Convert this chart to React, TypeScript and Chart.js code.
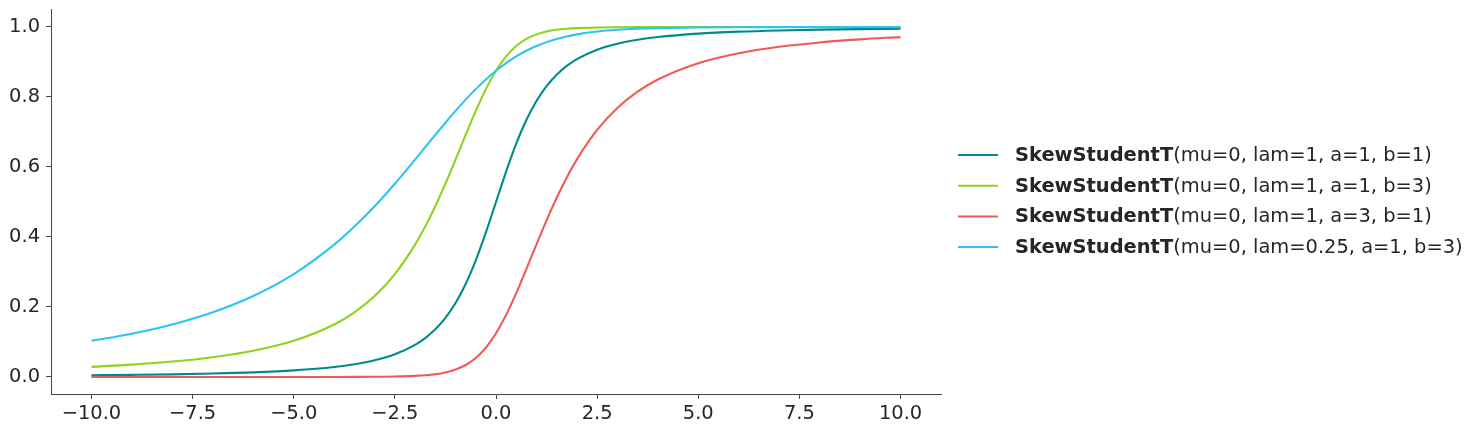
import React, { useEffect, useRef } from "react";
import { Chart, registerables } from "chart.js";

Chart.register(...registerables);

// x sample positions
const xValues = [
  -10, -9, -8, -7, -6, -5, -4, -3.5, -3, -2.5, -2, -1.75, -1.5, -1.25, -1, -0.75, -0.5, -0.25,
  0, 0.25, 0.5, 0.75, 1, 1.25, 1.5, 1.75, 2, 2.5, 3, 3.5, 4, 5, 6, 7, 8, 9, 10,
];

// SkewStudentT(mu=0, lam=1, a=1, b=1)
const tealValues = [
  0.0049, 0.0061, 0.0076, 0.0099, 0.0133, 0.0189, 0.0286, 0.0364, 0.0477, 0.0648, 0.0918, 0.1111,
  0.1362, 0.1689, 0.2113, 0.2657, 0.3333, 0.413, 0.5, 0.587, 0.6667, 0.7343, 0.7887, 0.8311, 0.8638,
  0.8889, 0.9083, 0.9352, 0.9523, 0.9636, 0.9714, 0.9811, 0.9867, 0.9901, 0.9924, 0.9939, 0.9951,
];

// SkewStudentT(mu=0, lam=1, a=1, b=3)
const greenValues = [
  0.0289, 0.0353, 0.0441, 0.0566, 0.075, 0.1035, 0.1501, 0.1849, 0.2314, 0.294, 0.3781, 0.4298,
  0.488, 0.5523, 0.6211, 0.6917, 0.7602, 0.8225, 0.875, 0.916, 0.9457, 0.9659, 0.9789, 0.987, 0.992,
  0.995, 0.9969, 0.9987, 0.9994, 0.9997, 0.9999, 1.0, 1.0, 1.0, 1.0, 1.0, 1.0,
];

// SkewStudentT(mu=0, lam=1, a=3, b=1)
const redValues = [
  0.0, 0.0, 0.0, 0.0, 0.0, 0.0, 0.0001, 0.0003, 0.0006, 0.0013, 0.0031, 0.005, 0.008, 0.013, 0.0211,
  0.0342, 0.0543, 0.084, 0.125, 0.1775, 0.2398, 0.3083, 0.3789, 0.4477, 0.512, 0.5702, 0.6219, 0.706,
  0.7687, 0.8151, 0.8499, 0.8965, 0.925, 0.9434, 0.9559, 0.9647, 0.9712,
];

// SkewStudentT(mu=0, lam=0.25, a=1, b=3)
const cyanValues = [
  0.1035, 0.1238, 0.1501, 0.1849, 0.2314, 0.294, 0.3781, 0.4298, 0.488, 0.5523, 0.6211, 0.6564,
  0.6917, 0.7265, 0.7602, 0.7924, 0.8225, 0.8501, 0.875, 0.897, 0.916, 0.9322, 0.9457, 0.9568,
  0.9659, 0.9731, 0.9789, 0.987, 0.992, 0.995, 0.9969, 0.9987, 0.9994, 0.9997, 0.9999, 0.9999, 1.0,
];

const seriesNames = ["SkewStudentT", "SkewStudentT", "SkewStudentT", "SkewStudentT"];
const seriesParams = [
  "(mu=0, lam=1, a=1, b=1)",
  "(mu=0, lam=1, a=1, b=3)",
  "(mu=0, lam=1, a=3, b=1)",
  "(mu=0, lam=0.25, a=1, b=3)",
];
const seriesColors = ["#008b8b", "#8fd41c", "#f05a55", "#2cc4f2"];

const xTicks = [-10, -7.5, -5, -2.5, 0, 2.5, 5, 7.5, 10];
const yTicks = [0, 0.2, 0.4, 0.6, 0.8, 1.0];

const FONT = '"DejaVu Sans", sans-serif';
const FONT_SIZE = 19.44;
const TEXT = "#262626";
const SPINE = "#444444";

const fmt = (v: number) => {
  const s = Math.abs(v).toFixed(1);
  return v < 0 ? "\u2212" + s : s;
};

const legendPlugin = {
  id: "customLegend",
  afterDraw(chart: any) {
    const ctx = chart.ctx;
    ctx.save();
    ctx.textBaseline = "middle";
    ctx.textAlign = "left";
    seriesParams.forEach((p, i) => {
      const y = 155 + i * 30.7;
      ctx.strokeStyle = seriesColors[i];
      ctx.lineWidth = 2;
      ctx.beginPath();
      ctx.moveTo(958, y);
      ctx.lineTo(998, y);
      ctx.stroke();
      ctx.fillStyle = TEXT;
      ctx.font = `bold ${FONT_SIZE}px ${FONT}`;
      ctx.fillText(seriesNames[i], 1015, y + 1);
      const w = ctx.measureText(seriesNames[i]).width;
      ctx.font = `${FONT_SIZE}px ${FONT}`;
      ctx.fillText(p, 1015 + w, y + 1);
    });
    ctx.restore();
  },
};

export default function App() {
  const ref = useRef<HTMLCanvasElement>(null);

  useEffect(() => {
    if (!ref.current) return;
    const all = [tealValues, greenValues, redValues, cyanValues];
    const chart = new Chart(ref.current, {
      type: "line",
      data: {
        datasets: all.map((vals, i) => ({
          label: seriesNames[i] + seriesParams[i],
          data: xValues.map((x, j) => ({ x, y: vals[j] })),
          borderColor: seriesColors[i],
          backgroundColor: seriesColors[i],
          borderWidth: 2.1,
          pointRadius: 0,
          fill: false,
          cubicInterpolationMode: "monotone" as const,
          order: 3 - i,
        })),
      },
      options: {
        responsive: false,
        animation: false,
        layout: { padding: { left: 0, top: 9.5, right: 539, bottom: 0 } },
        plugins: { legend: { display: false }, tooltip: { enabled: false } },
        scales: {
          x: {
            type: "linear",
            min: -11,
            max: 11,
            afterBuildTicks: (s: any) => {
              s.ticks = xTicks.map((v) => ({ value: v }));
            },
            afterFit: (s: any) => {
              s.height = 39;
              s.paddingLeft = 0;
              s.paddingRight = 0;
            },
            ticks: {
              color: TEXT,
              font: { family: FONT, size: FONT_SIZE },
              padding: 3,
              maxRotation: 0,
              autoSkip: false,
              callback: (v: any) => fmt(Number(v)),
            },
            grid: {
              drawOnChartArea: false,
              drawTicks: true,
              tickLength: 5,
              color: SPINE,
              lineWidth: 1,
            },
            border: { display: true, color: SPINE, width: 1 },
          },
          y: {
            type: "linear",
            min: -0.0486,
            max: 1.05,
            afterBuildTicks: (s: any) => {
              s.ticks = yTicks.map((v) => ({ value: v }));
            },
            afterFit: (s: any) => {
              s.width = 51;
              s.paddingTop = 0;
              s.paddingBottom = 0;
            },
            ticks: {
              color: TEXT,
              font: { family: FONT, size: FONT_SIZE },
              padding: 6,
              autoSkip: false,
              callback: (v: any) => fmt(Number(v)),
            },
            grid: {
              drawOnChartArea: false,
              drawTicks: true,
              tickLength: 5,
              color: SPINE,
              lineWidth: 1,
            },
            border: { display: true, color: SPINE, width: 1 },
          },
        },
      },
      plugins: [legendPlugin],
    });
    return () => chart.destroy();
  }, []);

  return (
    <div style={{ position: "absolute", left: 0, top: 0, width: 1480, height: 433, background: "#fff" }}>
      <canvas ref={ref} width={1480} height={433} style={{ width: 1480, height: 433 }} />
    </div>
  );
}
